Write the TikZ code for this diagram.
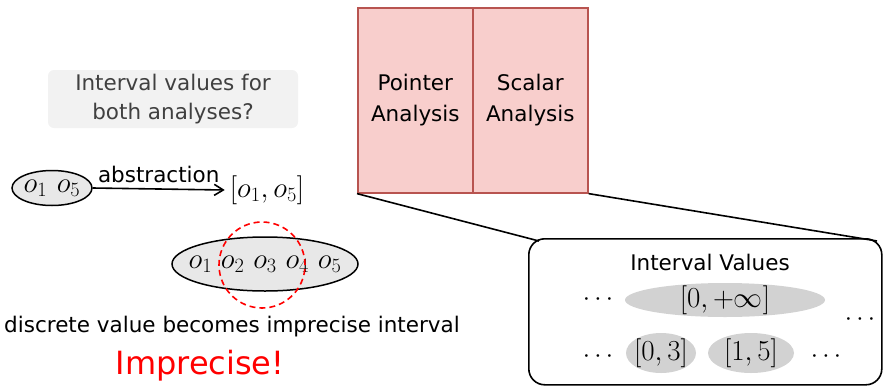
\RequirePackage{fix-cm}
\documentclass[tikz,border=0pt]{standalone}
\usepackage[no-math]{fontspec}
\setmainfont{DejaVu Sans}
\usetikzlibrary{shapes.geometric,arrows.meta}
\definecolor{boxred}{HTML}{F8CECC}
\definecolor{boxredline}{HTML}{B85450}
\tikzset{
  txt/.style={font=\fontsize{21.5}{29}\selectfont, align=center, inner sep=0pt},
  mth/.style={font=\fontsize{29}{33}\selectfont, inner sep=0pt},
  dts/.style={font=\fontsize{26}{30}\selectfont, inner sep=0pt},
  grayell/.style={ellipse, fill=gray!35, inner sep=0pt},
  objell/.style={ellipse, draw, line width=1.5pt, fill=gray!18, inner sep=0pt},
  anabox/.style={draw=boxredline, fill=boxred, line width=1.6pt, minimum width=115pt, minimum height=185pt, inner sep=0pt, anchor=north west, font=\fontsize{21.5}{31}\selectfont, align=center},
  thick line/.style={line width=1.6pt},
}
\begin{document}
\begin{tikzpicture}[x=1pt,y=-1pt]
\useasboundingbox (0,0) rectangle (891,386);
% question box
\node[fill=gray!10, rounded corners=6pt, minimum width=250pt, minimum height=58pt, txt, text=black!75] (q) at (173,99) {Interval values for\\both analyses?};
% abstraction
\node[objell, minimum width=80pt, minimum height=35pt, label={[mth]center:$o_1\mskip6mu o_5$}] (e1) at (52,188) {};
\node[mth] (iv) at (267,190) {$[o_1, o_5]$};
\draw[thick line, -{Straight Barb[length=9pt,width=11pt]}] (e1.east) -- ([xshift=-5pt]iv.west) node[midway, above=5pt, txt] (ab) {abstraction};
% big ellipse
\node[objell, minimum width=186pt, minimum height=54pt, label={[mth]center:$o_1\mskip5.5mu o_2\mskip5.5mu o_3\mskip5.5mu o_4\mskip5.5mu o_5$}] (e2) at (265,264) {};
\node[draw=red, line width=1.6pt, circle, minimum size=86pt, inner sep=0pt, dash pattern=on 6pt off 4pt] (dc) at (262,265) {};
\node[txt] (disc) at (232,327) {discrete value becomes imprecise interval};
\node[txt, text=red, font=\fontsize{32}{36}\selectfont] (imp) at (200,366) {Imprecise!};
% analysis boxes
\node[anabox] (pa) at (357,7) {Pointer\\Analysis};
\node[anabox] (sa) at (472,7) {Scalar\\Analysis};
% interval values box
\node[draw, thick line, rounded corners=16pt, minimum width=353pt, minimum height=146pt, inner sep=0pt, anchor=north west] (ivb) at (528,238) {};
\coordinate (ivl) at (539,241);
\coordinate (ivr) at (877,241);
\draw[thick line] (pa.south west) -- (ivl);
\draw[thick line] (sa.south east) -- (ivr);
\node[txt] (ivt) at (710,262) {Interval Values};
\node[grayell, minimum width=200pt, minimum height=34pt, label={[mth]center:$[0,+\infty]$}] (inf) at (725,300) {};
\node[grayell, minimum width=70pt, minimum height=40pt, label={[mth]center:$[0,3]$}] (i03) at (661,353) {};
\node[grayell, minimum width=86pt, minimum height=40pt, label={[mth]center:$[1,5]$}] (i15) at (751,353) {};
\node[dts] (d1) at (598,300) {$\cdots$};
\node[dts] (d2) at (860,320) {$\cdots$};
\node[dts] (d3) at (598,357) {$\cdots$};
\node[dts] (d4) at (826,357) {$\cdots$};
\end{tikzpicture}
\end{document}
